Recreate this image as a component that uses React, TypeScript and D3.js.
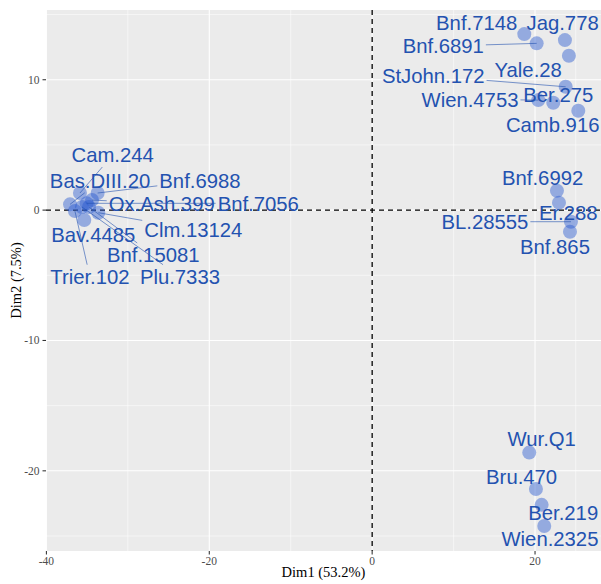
import React, { useMemo } from "react";
import * as d3 from "d3";

const labels = [
  "Bnf.7148", "Jag.778", "Bnf.6891", "Yale.28", "StJohn.172", "Ber.275", "Wien.4753", "Camb.916",
  "Bnf.6992", "Er.288", "BL.28555", "Bnf.865",
  "Wur.Q1", "Bru.470", "Ber.219", "Wien.2325",
  "Cam.244", "Bnf.6988", "Bas.DIII.20", "Bnf.7056", "Ox.Ash.399", "Bnf.15081", "Bav.4485", "Clm.13124", "Trier.102", "Plu.7333",
];
const dim1 = [
  18.68, 23.67, 20.2, 24.16, 23.76, 22.24, 20.4, 25.31,
  22.69, 22.94, 24.41, 24.29,
  19.29, 20.11, 20.81, 21.13,
  -35.88, -33.71, -37.1, -35.06, -34.4, -34.77, -35.35, -33.63, -36.5, -35.64,
];
const dim2 = [
  13.5, 13.04, 12.79, 11.84, 9.46, 8.24, 8.44, 7.62,
  1.49, 0.57, -0.89, -1.66,
  -18.6, -21.39, -22.61, -24.23,
  1.31, 1.31, 0.44, 0.52, 0.77, 0.24, -0.76, -0.2, -0.07, 0.24,
];

// label placement offsets (pixels, from point to label centre) — layout only
const labelDx = [
  -47.6, -2.3, -93.4, -40.7, -132.4, 5, -68.3, -25.6,
  -14.3, 9.3, -86, -15,
  12.4, -14.3, 21.6, 5.7,
  32.7, 102.3, 30, 171.6, 69.7, 64.3, 9, 95, 15, 98,
];
const labelDy = [
  -11.3, -17.3, 2.7, 14.3, -10.7, -7.7, -0.7, 14.3,
  -13.4, 10, 0, 15,
  -13.4, -12.3, 7.7, 12.3,
  -38, -12.3, -23.6, 0, 3.3, 48, 15, 16.6, 65.7, 69.7,
];

const xTicks = [-40, -20, 0, 20];
const yTicks = [-20, -10, 0, 10];
const xMinor = [-30, -10, 10, 25];
const yMinor = [-25, -15, -5, 5, 15];

const LABEL_FONT = 20.3;
const TEXT_COLOR = "#2352b0";
const POINT_COLOR = "#2a5bd0";

function measure(text: string, font: string): number {
  try {
    const c = document.createElement("canvas");
    const ctx = c.getContext("2d");
    if (ctx) {
      ctx.font = font;
      return ctx.measureText(text).width;
    }
  } catch (e) {}
  return text.length * LABEL_FONT * 0.55;
}

export default function App() {
  const W = 601, H = 584;
  const left = 46, right = 601, top = 10, bottom = 551;
  const x = d3.scaleLinear().domain([-40.05, 28.1]).range([left, right]);
  const y = d3.scaleLinear().domain([-26.15, 15.35]).range([bottom, top]);

  const items = useMemo(() => {
    const font = `${LABEL_FONT}px "Liberation Sans", Arial, sans-serif`;
    return labels.map((name, i) => {
      const px = x(dim1[i]);
      const py = y(dim2[i]);
      const cx = px + labelDx[i];
      const cy = py + labelDy[i];
      const w = measure(name, font);
      const hw = w / 2 + 2;
      const hh = 10 + 2;
      const dx = px - cx;
      const dy = py - cy;
      let seg: null | [number, number, number, number] = null;
      if (Math.abs(dx) > hw || Math.abs(dy) > hh) {
        const sx = dx === 0 ? Infinity : hw / Math.abs(dx);
        const sy = dy === 0 ? Infinity : hh / Math.abs(dy);
        const s = Math.min(sx, sy);
        const ex = cx + s * dx;
        const ey = cy + s * dy;
        const len = Math.hypot(px - ex, py - ey);
        if (len > 14) seg = [px, py, ex, ey];
      }
      return { name, px, py, cx, cy, seg };
    });
  }, []);

  const serif = '"Liberation Serif", "Times New Roman", "DejaVu Serif", serif';

  return (
    <svg width={W} height={H} style={{ position: "absolute", left: 0, top: 0, display: "block" }}>
      <rect x={0} y={0} width={W} height={H} fill="#ffffff" />
      <rect x={left} y={top} width={right - left} height={bottom - top} fill="#EBEBEB" />
      {xMinor.map((v) => (
        <line key={"xm" + v} x1={x(v)} x2={x(v)} y1={top} y2={bottom} stroke="#fff" strokeWidth={0.53} />
      ))}
      {yMinor.map((v) => (
        <line key={"ym" + v} x1={left} x2={right} y1={y(v)} y2={y(v)} stroke="#fff" strokeWidth={0.53} />
      ))}
      {xTicks.map((v) => (
        <line key={"xg" + v} x1={x(v)} x2={x(v)} y1={top} y2={bottom} stroke="#fff" strokeWidth={1.07} />
      ))}
      {yTicks.map((v) => (
        <line key={"yg" + v} x1={left} x2={right} y1={y(v)} y2={y(v)} stroke="#fff" strokeWidth={1.07} />
      ))}
      <line x1={x(0)} x2={x(0)} y1={top} y2={bottom} stroke="#000" strokeWidth={1.3} strokeDasharray="5,4" />
      <line x1={left} x2={right} y1={y(0)} y2={y(0)} stroke="#000" strokeWidth={1.3} strokeDasharray="5,4" />

      {items.map((d) => (
        <circle key={"p" + d.name} cx={d.px} cy={d.py} r={7} fill={POINT_COLOR} fillOpacity={0.45} />
      ))}
      {items.map((d) =>
        d.seg ? (
          <line key={"s" + d.name} x1={d.seg[0]} y1={d.seg[1]} x2={d.seg[2]} y2={d.seg[3]} stroke={TEXT_COLOR} strokeWidth={0.6} />
        ) : null
      )}
      {items.map((d) => (
        <text
          key={"t" + d.name}
          x={d.cx}
          y={d.cy}
          dy="0.36em"
          textAnchor="middle"
          fontFamily='"Liberation Sans", Arial, sans-serif'
          fontSize={LABEL_FONT}
          fill={TEXT_COLOR}
        >
          {d.name}
        </text>
      ))}

      {xTicks.map((v) => (
        <g key={"xt" + v}>
          <line x1={x(v)} x2={x(v)} y1={bottom} y2={bottom + 3.5} stroke="#333" strokeWidth={1.07} />
          <text x={x(v)} y={bottom + 14} textAnchor="middle" fontFamily={serif} fontSize={11.5} fill="#4D4D4D">
            {v}
          </text>
        </g>
      ))}
      {yTicks.map((v) => (
        <g key={"yt" + v}>
          <line x1={left - 3.5} x2={left} y1={y(v)} y2={y(v)} stroke="#333" strokeWidth={1.07} />
          <text x={left - 6.5} y={y(v)} dy="0.35em" textAnchor="end" fontFamily={serif} fontSize={11.5} fill="#4D4D4D">
            {v}
          </text>
        </g>
      ))}
      <text x={(left + right) / 2} y={577} textAnchor="middle" fontFamily={serif} fontSize={14.5} fill="#000">
        Dim1 (53.2%)
      </text>
      <text
        transform={`translate(21, ${(top + bottom) / 2}) rotate(-90)`}
        textAnchor="middle"
        fontFamily={serif}
        fontSize={14.5}
        fill="#000"
      >
        Dim2 (7.5%)
      </text>
    </svg>
  );
}
